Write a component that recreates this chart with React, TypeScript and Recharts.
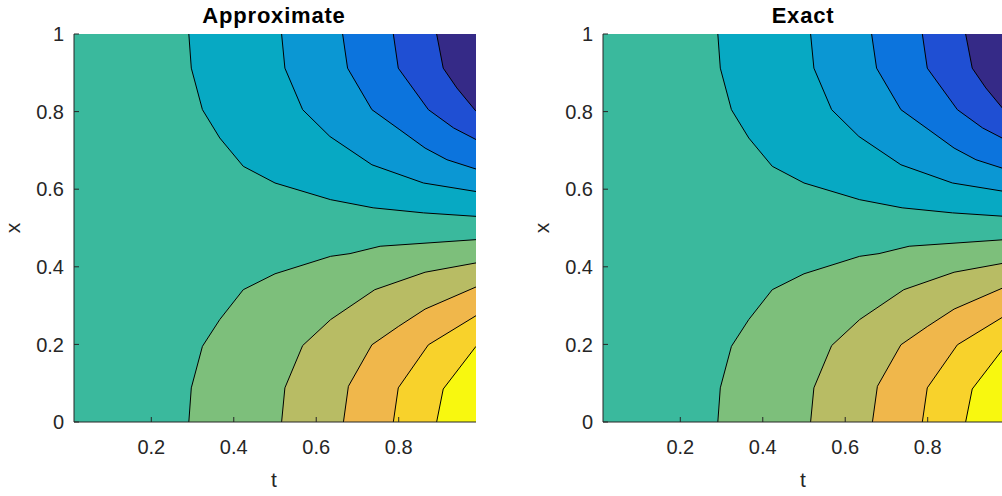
import { ComposedChart, Area, XAxis, YAxis } from "recharts"

// contour lines: [t, x]
const upperLevels = [
  [[0.291, 1], [0.297, 0.912], [0.324, 0.805], [0.366, 0.732], [0.423, 0.659], [0.5, 0.616], [0.635, 0.573], [0.738, 0.552], [0.86, 0.539], [0.9875, 0.53]],
  [[0.516, 1], [0.524, 0.912], [0.567, 0.805], [0.633, 0.736], [0.735, 0.663], [0.86, 0.616], [0.9875, 0.594]],
  [[0.664, 1], [0.676, 0.912], [0.735, 0.805], [0.803, 0.753], [0.864, 0.706], [0.917, 0.676], [0.9875, 0.652]],
  [[0.787, 1], [0.799, 0.912], [0.872, 0.805], [0.933, 0.758], [0.9875, 0.728]],
  [[0.892, 1], [0.908, 0.912], [0.941, 0.861], [0.9875, 0.801]],
]

const lowerLevels = [
  [[0.291, 0], [0.297, 0.088], [0.324, 0.195], [0.366, 0.264], [0.423, 0.341], [0.5, 0.382], [0.635, 0.427], [0.682, 0.434], [0.755, 0.453], [0.9875, 0.47]],
  [[0.516, 0], [0.524, 0.088], [0.567, 0.197], [0.635, 0.264], [0.742, 0.341], [0.864, 0.386], [0.9875, 0.41]],
  [[0.666, 0], [0.678, 0.092], [0.735, 0.199], [0.799, 0.246], [0.864, 0.291], [0.9875, 0.348]],
  [[0.787, 0], [0.799, 0.088], [0.872, 0.199], [0.9875, 0.274]],
  [[0.892, 0], [0.908, 0.085], [0.9875, 0.195]],
]

const backgroundEdge = [[0.0125, 1], [0.9875, 1]]

const upperColors = ["#07a9c3", "#0b97d3", "#0c74dd", "#1f4fd3", "#352a87"]
const lowerColors = ["#7dbf7b", "#b8bc64", "#f0b74b", "#f8d22b", "#f8f80f"]
const backgroundColor = "#3ab99d"

const tTicks = [0.2, 0.4, 0.6, 0.8]
const xTicks = [0, 0.2, 0.4, 0.6, 0.8, 1]
const titles = ["Approximate", "Exact"]

const toRows = (pts: number[][]) => pts.map(([t, x]) => ({ t, x }))

const FONT = '"Liberation Sans", Arial, Helvetica, sans-serif'
const AXIS = "#262626"
const tickStyle = { fontSize: 20, fill: AXIS, fontFamily: FONT }
const blank = () => ""

function ContourPanel({ left }: { left: number }) {
  return (
    <div style={{ position: "absolute", left, top: 0 }}>
      <ComposedChart width={500} height={496} margin={{ top: 34, right: 24, bottom: 0, left: 0 }}>
        <Area
          data={toRows(backgroundEdge)}
          dataKey="x"
          type="linear"
          baseValue={0}
          fill={backgroundColor}
          fillOpacity={1}
          stroke="none"
          dot={false}
          activeDot={false}
          isAnimationActive={false}
        />
        {upperLevels.map((pts, i) => (
          <Area
            key={"u" + i}
            data={toRows(pts)}
            dataKey="x"
            type="linear"
            baseValue={1}
            fill={upperColors[i]}
            fillOpacity={1}
            stroke="#000"
            strokeWidth={1}
            dot={false}
            activeDot={false}
            isAnimationActive={false}
          />
        ))}
        {lowerLevels.map((pts, i) => (
          <Area
            key={"l" + i}
            data={toRows(pts)}
            dataKey="x"
            type="linear"
            baseValue={0}
            fill={lowerColors[i]}
            fillOpacity={1}
            stroke="#000"
            strokeWidth={1}
            dot={false}
            activeDot={false}
            isAnimationActive={false}
          />
        ))}
        <XAxis
          dataKey="t"
          type="number"
          domain={[0.0125, 0.9875]}
          allowDataOverflow
          ticks={tTicks}
          height={74}
          tickSize={-5}
          tickMargin={23}
          tick={tickStyle}
          fontSize={20}
          fontFamily={FONT}
          stroke={AXIS}
        />
        <XAxis
          xAxisId="top"
          orientation="top"
          type="number"
          domain={[0.0125, 0.9875]}
          allowDataOverflow
          ticks={tTicks}
          height={0}
          tickSize={-5}
          tickFormatter={blank}
          stroke={AXIS}
        />
        <YAxis
          type="number"
          domain={[0, 1]}
          allowDataOverflow
          ticks={xTicks}
          width={74}
          tickSize={-5}
          tickMargin={15}
          tick={tickStyle}
          fontSize={20}
          fontFamily={FONT}
          tickFormatter={(v: number) => String(v)}
          stroke={AXIS}
        />
        <YAxis
          yAxisId="right"
          orientation="right"
          type="number"
          domain={[0, 1]}
          allowDataOverflow
          ticks={xTicks}
          width={0}
          tickSize={-5}
          tickFormatter={blank}
          stroke={AXIS}
        />
      </ComposedChart>
    </div>
  )
}

export default function App() {
  const offsets = [0, 529]
  return (
    <div
      style={{
        position: "absolute",
        left: 0,
        top: 0,
        width: 1002,
        height: 496,
        overflow: "hidden",
        background: "#fff",
      }}
    >
      {offsets.map((o) => (
        <ContourPanel key={o} left={o} />
      ))}
      <svg
        width={1002}
        height={496}
        style={{ position: "absolute", left: 0, top: 0, pointerEvents: "none" }}
        fontFamily={FONT}
      >
        {offsets.map((o, i) => (
          <g key={o}>
            <text x={o + 274} y={23} textAnchor="middle" fontSize={22} fontWeight="bold" letterSpacing={0.8} fill="#000">
              {titles[i]}
            </text>
            <text x={o + 274} y={487} textAnchor="middle" fontSize={21} fill={AXIS}>
              t
            </text>
            <text
              transform={`translate(${o + 20},228) rotate(-90)`}
              textAnchor="middle"
              fontSize={21}
              fill={AXIS}
            >
              x
            </text>
          </g>
        ))}
      </svg>
    </div>
  )
}
